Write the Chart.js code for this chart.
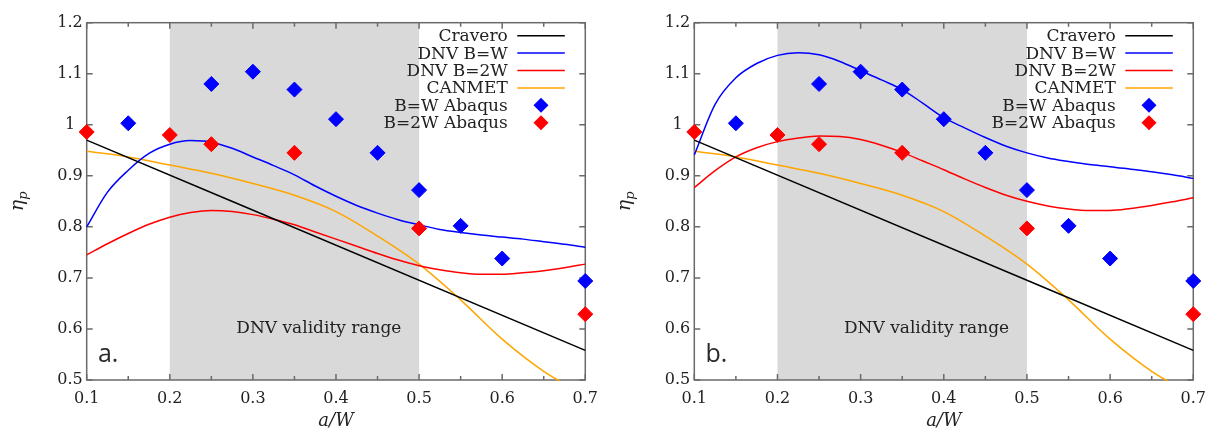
<!DOCTYPE html>
<html>
<head>
<meta charset="utf-8">
<script src="https://cdn.jsdelivr.net/npm/chart.js@4/dist/chart.umd.min.js"></script>
<style>
  html, body { margin: 0; padding: 0; background: #fff; }
  #wrap { position: relative; width: 1215px; height: 430px; }
  canvas { position: absolute; top: 0; }
</style>
</head>
<body>
<div id="wrap">
  <canvas id="chartA" width="607" height="430" style="left:0px"></canvas>
  <canvas id="chartB" width="608" height="430" style="left:607px"></canvas>
</div>
<script>
// ---------------- data ----------------
const X_MINOR_TICKS = [0.15, 0.25, 0.35, 0.45, 0.55, 0.65];
const BAND_RANGE = [0.2, 0.5];
const BAND_LABEL = 'DNV validity range';
const LEGEND_LABELS = ['Cravero', 'DNV B=W', 'DNV B=2W', 'CANMET', 'B=W Abaqus', 'B=2W Abaqus'];
const PANEL_LABELS = ['a.', 'b.'];

const ABQ_BW_X  = [0.15, 0.25, 0.3, 0.35, 0.4, 0.45, 0.5, 0.55, 0.6, 0.7];
const ABQ_BW_Y  = [1.003, 1.080, 1.104, 1.069, 1.011, 0.945, 0.872, 0.802, 0.738, 0.694];
const ABQ_B2W_X = [0.1, 0.2, 0.25, 0.35, 0.5, 0.7];
const ABQ_B2W_Y = [0.986, 0.980, 0.962, 0.945, 0.797, 0.629];

const CRAVERO_X = [0.1, 0.7];
const CRAVERO_Y = [0.970, 0.558];

const CANMET_X = [0.1, 0.15, 0.2, 0.25, 0.3, 0.35, 0.4, 0.45, 0.5, 0.55, 0.6, 0.65, 0.7];
const CANMET_Y = [0.948, 0.937, 0.921, 0.905, 0.885, 0.862, 0.830, 0.782, 0.727, 0.657, 0.580, 0.517, 0.470];

const DNV_X = [0.1, 0.125, 0.15, 0.175, 0.2, 0.225, 0.25, 0.275, 0.3, 0.325, 0.35, 0.375, 0.4,
               0.425, 0.45, 0.475, 0.5, 0.525, 0.55, 0.575, 0.6, 0.625, 0.65, 0.675, 0.7];
const DNV_BW_A  = [0.800, 0.868, 0.911, 0.944, 0.962, 0.969, 0.966, 0.954, 0.937, 0.920, 0.902, 0.880, 0.860,
                   0.842, 0.827, 0.814, 0.804, 0.795, 0.789, 0.784, 0.780, 0.776, 0.771, 0.766, 0.760];
const DNV_B2W_A = [0.745, 0.767, 0.787, 0.805, 0.819, 0.828, 0.832, 0.830, 0.824, 0.815, 0.804, 0.790, 0.776,
                   0.762, 0.748, 0.735, 0.724, 0.716, 0.710, 0.707, 0.707, 0.710, 0.714, 0.720, 0.727];
const DNV_BW_B  = [0.941, 1.040, 1.092, 1.120, 1.136, 1.141, 1.137, 1.124, 1.106, 1.088, 1.069, 1.042, 1.014,
                   0.994, 0.975, 0.958, 0.945, 0.935, 0.928, 0.922, 0.918, 0.913, 0.908, 0.902, 0.895];
const DNV_B2W_B = [0.877, 0.910, 0.937, 0.955, 0.967, 0.974, 0.978, 0.977, 0.971, 0.960, 0.946, 0.929, 0.912,
                   0.894, 0.877, 0.862, 0.850, 0.841, 0.835, 0.832, 0.832, 0.836, 0.842, 0.849, 0.857];

// ---------------- helpers ----------------
const COLORS = { cravero: '#000000', bw: '#0000ff', b2w: '#ff0000', canmet: '#ffa500' };
const SERIF = '"DejaVu Serif", "Liberation Serif", serif';
const pts = (xs, ys) => xs.map((x, i) => ({ x: x, y: ys[i] }));
const fmt = v => (Math.abs(v - 1) < 1e-9 ? '1' : (+v).toFixed(1));

const decorPlugin = {
  id: 'decor',
  beforeDatasetsDraw(chart) {
    const { ctx, chartArea: a, scales: { x, y } } = chart;
    ctx.save();
    const x0 = x.getPixelForValue(BAND_RANGE[0]);
    const x1 = x.getPixelForValue(BAND_RANGE[1]);
    ctx.fillStyle = '#d9d9d9';
    ctx.fillRect(x0, a.top, x1 - x0, a.bottom - a.top);
    ctx.fillStyle = '#222';
    ctx.font = '17px ' + SERIF;
    ctx.textAlign = 'left';
    ctx.textBaseline = 'middle';
    ctx.fillText(BAND_LABEL, x.getPixelForValue(0.28), y.getPixelForValue(0.6));
    ctx.font = '25px "Open Sans", "DejaVu Sans", sans-serif';
    ctx.fillStyle = '#2a2a2a';
    ctx.fillText(chart.options.plugins.decor.panel, x.getPixelForValue(0.1135), y.getPixelForValue(0.55));
    ctx.strokeStyle = '#6a6a6a';
    ctx.lineWidth = 1.5;
    ctx.strokeRect(a.left, a.top, a.right - a.left, a.bottom - a.top);
    ctx.beginPath();
    x.ticks.forEach(t => {
      const px = x.getPixelForValue(t.value);
      ctx.moveTo(px, a.bottom); ctx.lineTo(px, a.bottom - 6);
      ctx.moveTo(px, a.top); ctx.lineTo(px, a.top + 6);
    });
    X_MINOR_TICKS.forEach(v => {
      const px = x.getPixelForValue(v);
      ctx.moveTo(px, a.bottom); ctx.lineTo(px, a.bottom - 4);
      ctx.moveTo(px, a.top); ctx.lineTo(px, a.top + 4);
    });
    y.ticks.forEach(t => {
      const py = y.getPixelForValue(t.value);
      ctx.moveTo(a.left, py); ctx.lineTo(a.left + 6, py);
      ctx.moveTo(a.right, py); ctx.lineTo(a.right - 6, py);
    });
    ctx.stroke();
    ctx.restore();
  },
  afterDatasetsDraw(chart) {
    const { ctx, chartArea: a } = chart;
    const ds = chart.data.datasets;
    ctx.save();
    const textRight = a.right - 77.5;
    const lineStart = a.right - 68;
    const lineEnd = a.right - 20.5;
    const mid = (lineStart + lineEnd) / 2;
    ctx.font = '17px ' + SERIF;
    ctx.textAlign = 'right';
    ctx.textBaseline = 'middle';
    LEGEND_LABELS.forEach((lab, i) => {
      const yy = a.top + 13 + i * 17.4;
      const d = ds.find(s => s.label === lab);
      ctx.fillStyle = '#222';
      ctx.fillText(lab, textRight, yy + 1);
      if (d.showLine) {
        ctx.strokeStyle = d.borderColor;
        ctx.lineWidth = 1.5;
        ctx.beginPath(); ctx.moveTo(lineStart, yy); ctx.lineTo(lineEnd, yy); ctx.stroke();
      } else {
        const r = 7.5;
        ctx.fillStyle = d.backgroundColor;
        ctx.beginPath();
        ctx.moveTo(mid - r, yy); ctx.lineTo(mid, yy - r); ctx.lineTo(mid + r, yy); ctx.lineTo(mid, yy + r);
        ctx.closePath(); ctx.fill();
      }
    });
    ctx.restore();
  },
  afterDraw(chart) {
    const { ctx, chartArea: a } = chart;
    ctx.save();
    ctx.fillStyle = '#222';
    ctx.font = 'italic 18px ' + SERIF;
    ctx.textAlign = 'center';
    ctx.textBaseline = 'alphabetic';
    ctx.fillText('a/W', (a.left + a.right) / 2, 426);
    ctx.translate(19, (a.top + a.bottom) / 2);
    ctx.rotate(-Math.PI / 2);
    ctx.font = 'italic 19px ' + SERIF;
    const w1 = ctx.measureText('η').width;
    ctx.font = 'italic 13px ' + SERIF;
    const w2 = ctx.measureText('p').width;
    const start = -(w1 + w2) / 2;
    ctx.textAlign = 'left';
    ctx.font = 'italic 19px ' + SERIF;
    ctx.fillText('η', start, 4);
    ctx.font = 'italic 13px ' + SERIF;
    ctx.fillText('p', start + w1, 8);
    ctx.restore();
  }
};

function lineSet(label, xs, ys, color) {
  return {
    label: label, data: pts(xs, ys), showLine: true, borderColor: color, backgroundColor: color,
    borderWidth: 1.5, pointRadius: 0, cubicInterpolationMode: 'monotone', order: 1, clip: 1
  };
}
function pointSet(label, xs, ys, color) {
  return {
    label: label, data: pts(xs, ys), showLine: false, pointStyle: 'rectRot', pointRadius: 7.5,
    backgroundColor: color, borderColor: color, borderWidth: 1, order: 0, clip: false
  };
}

function makeChart(id, bwY, b2wY, panel, yWidth, rightPad) {
  return new Chart(document.getElementById(id), {
    type: 'scatter',
    data: {
      datasets: [
        pointSet('B=W Abaqus', ABQ_BW_X, ABQ_BW_Y, COLORS.bw),
        pointSet('B=2W Abaqus', ABQ_B2W_X, ABQ_B2W_Y, COLORS.b2w),
        lineSet('Cravero', CRAVERO_X, CRAVERO_Y, COLORS.cravero),
        lineSet('DNV B=W', DNV_X, bwY, COLORS.bw),
        lineSet('DNV B=2W', DNV_X, b2wY, COLORS.b2w),
        lineSet('CANMET', CANMET_X, CANMET_Y, COLORS.canmet)
      ]
    },
    options: {
      responsive: false,
      animation: false,
      events: [],
      layout: { padding: { left: 0, right: rightPad, top: 22.7, bottom: 0 } },
      plugins: { legend: { display: false }, tooltip: { enabled: false }, decor: { panel: panel } },
      scales: {
        x: {
          type: 'linear', min: 0.1, max: 0.7,
          grid: { display: false, drawTicks: false }, border: { display: false },
          ticks: { stepSize: 0.1, callback: fmt, autoSkip: false, maxRotation: 0, padding: 9,
                   color: '#222', font: { family: SERIF, size: 16 } },
          afterFit(s) { s.height = 50; }
        },
        y: {
          type: 'linear', min: 0.5, max: 1.2,
          grid: { display: false, drawTicks: false }, border: { display: false },
          ticks: { stepSize: 0.1, callback: fmt, autoSkip: false, padding: 4, crossAlign: 'center',
                   color: '#222', font: { family: SERIF, size: 16 } },
          afterFit(s) { s.width = yWidth; }
        }
      }
    },
    plugins: [decorPlugin]
  });
}

makeChart('chartA', DNV_BW_A, DNV_B2W_A, PANEL_LABELS[0], 86.7, 16);
makeChart('chartB', DNV_BW_B, DNV_B2W_B, PANEL_LABELS[1], 87.3, 16.3);
</script>
</body>
</html>
